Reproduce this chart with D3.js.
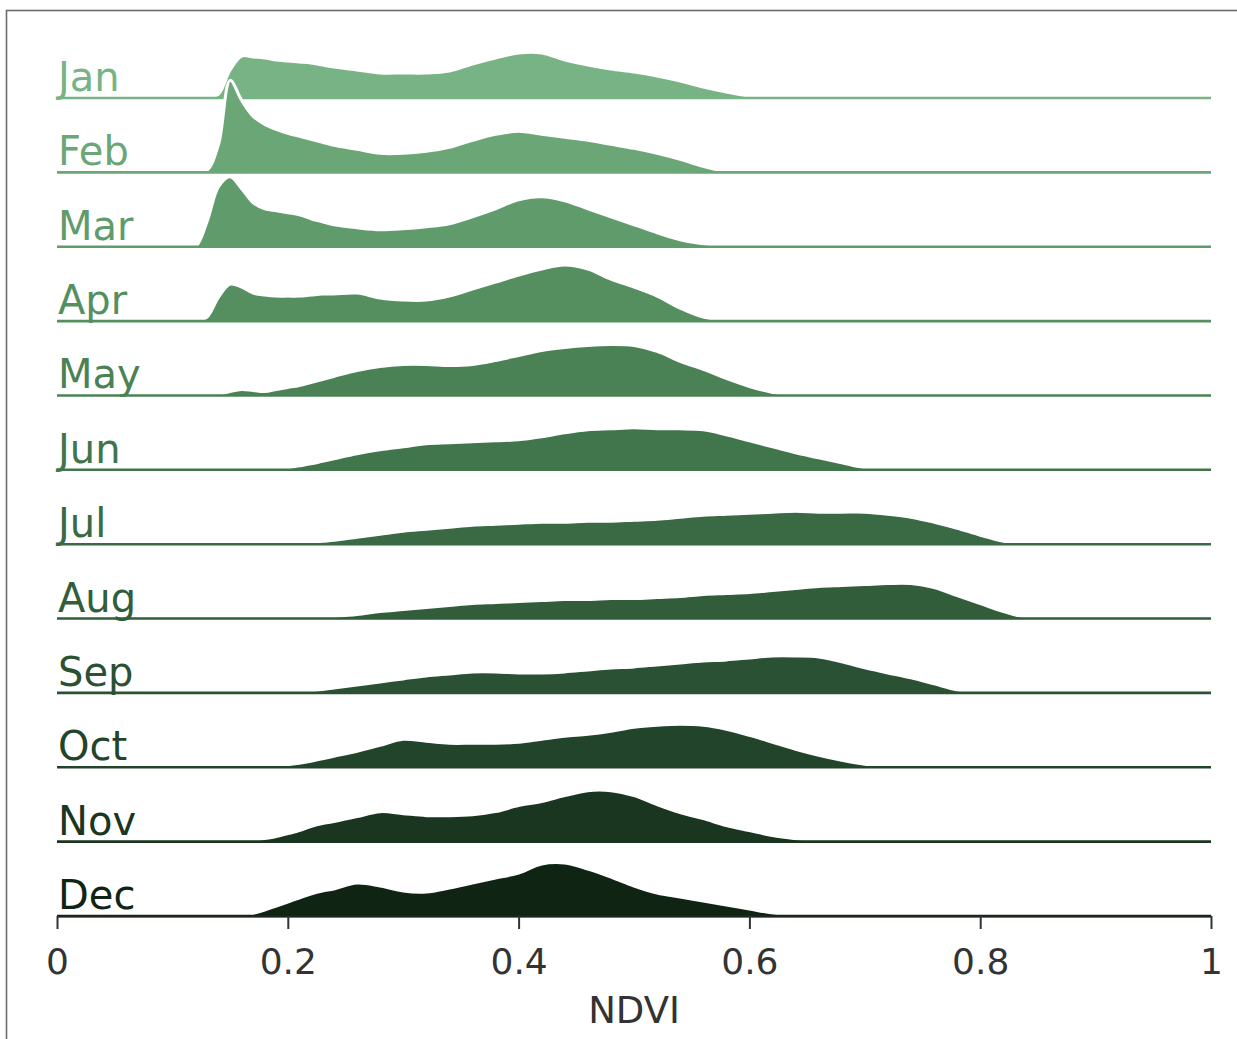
<!DOCTYPE html>
<html><head><meta charset="utf-8">
<script src="https://cdn.jsdelivr.net/npm/d3@7"></script>
<style>body{margin:0;background:#fff} svg{display:block}</style>
</head><body>
<svg id="c" width="1237" height="1039"></svg>
<script>
const months = ["Jan","Feb","Mar","Apr","May","Jun","Jul","Aug","Sep","Oct","Nov","Dec"];
const ndvi = [0.10,0.11,0.12,0.13,0.14,0.15,0.16,0.17,0.18,0.19,0.20,0.21,0.22,0.23,0.24,
  0.26,0.28,0.30,0.32,0.34,0.36,0.38,0.40,0.42,0.44,0.46,0.48,0.50,0.52,0.54,0.56,0.58,0.60,
  0.62,0.64,0.66,0.68,0.70,0.72,0.74,0.76,0.78,0.80,0.82,0.84,0.86,0.88];
const jan = [0,0,0,0.1,0.4,2.8,4.2,4.1,4.0,3.8,3.7,3.6,3.5,3.3,3.1,
  2.8,2.5,2.5,2.5,2.7,3.4,4.0,4.5,4.5,3.8,3.3,2.9,2.6,2.2,1.7,1.1,0.6,0.2,0.05,0,0,0,0,0,0,0,0,0,0,0,0,0];
const feb = [0,0,0,0.2,2.8,9.2,7.2,5.6,4.8,4.3,3.9,3.6,3.3,3.0,2.7,
  2.3,1.9,1.9,2.1,2.5,3.2,3.8,4.1,3.8,3.5,3.2,2.8,2.4,1.9,1.3,0.6,0.1,0.03,0,0,0,0,0,0,0,0,0,0,0,0,0,0];
const mar = [0,0,0,2.5,6.0,7.0,5.8,4.4,3.8,3.6,3.4,3.2,2.8,2.5,2.2,
  1.9,1.7,1.8,2.0,2.3,3.0,3.8,4.7,5.0,4.6,3.8,3.0,2.2,1.4,0.7,0.3,0.05,0,0,0,0,0,0,0,0,0,0,0,0,0,0,0];
const apr = [0,0,0,0.4,2.4,3.7,3.4,2.8,2.6,2.5,2.5,2.5,2.6,2.7,2.7,
  2.8,2.3,2.1,2.1,2.5,3.2,3.9,4.6,5.2,5.6,5.2,4.2,3.4,2.5,1.3,0.4,0.05,0,0,0,0,0,0,0,0,0,0,0,0,0,0,0];
const may = [0,0,0,0,0.1,0.4,0.6,0.5,0.4,0.6,0.8,1.0,1.3,1.6,1.9,
  2.5,2.9,3.1,3.1,3.0,3.1,3.5,4.0,4.5,4.8,5.0,5.1,5.0,4.4,3.4,2.6,1.7,0.9,0.3,0.05,0,0,0,0,0,0,0,0,0,0,0,0];
const jun = [0,0,0,0,0,0,0,0,0.02,0.08,0.2,0.4,0.6,0.85,1.1,
  1.6,2.0,2.3,2.6,2.7,2.8,2.9,3.0,3.3,3.7,4.0,4.1,4.2,4.1,4.1,4.0,3.5,2.9,2.3,1.7,1.2,0.7,0.2,0.05,0,0,0,0,0,0,0,0];
const jul = [0,0,0,0,0,0,0,0,0,0,0.03,0.08,0.15,0.28,0.4,
  0.7,1.0,1.3,1.5,1.7,1.9,2.0,2.1,2.2,2.2,2.3,2.3,2.4,2.5,2.7,2.9,3.0,3.1,3.2,3.3,3.2,3.2,3.2,3.0,2.7,2.2,1.6,0.9,0.3,0.05,0,0];
const aug = [0,0,0,0,0,0,0,0,0,0,0,0.03,0.06,0.12,0.2,
  0.4,0.7,0.9,1.1,1.3,1.5,1.6,1.7,1.8,1.9,1.9,2.0,2.0,2.1,2.2,2.4,2.5,2.6,2.8,3.0,3.2,3.3,3.4,3.5,3.5,3.1,2.3,1.5,0.7,0.1,0,0];
const sep = [0,0,0,0,0,0,0,0,0,0,0.03,0.1,0.2,0.35,0.5,
  0.8,1.1,1.4,1.7,1.9,2.1,2.1,2.0,2.0,2.1,2.3,2.5,2.6,2.8,3.0,3.2,3.3,3.5,3.7,3.7,3.6,3.1,2.5,2.0,1.5,0.9,0.3,0.05,0,0,0,0];
const oct = [0,0,0,0,0,0,0,0,0.05,0.12,0.25,0.4,0.6,0.85,1.1,
  1.6,2.2,2.8,2.6,2.4,2.4,2.4,2.5,2.8,3.1,3.3,3.6,4.0,4.2,4.3,4.2,3.8,3.2,2.5,1.8,1.2,0.7,0.3,0.05,0,0,0,0,0,0,0,0];
const nov = [0,0,0,0,0,0,0.03,0.1,0.3,0.5,0.8,1.1,1.5,1.8,2.0,
  2.5,3.0,2.8,2.6,2.6,2.7,3.0,3.6,4.0,4.6,5.1,5.1,4.6,3.7,2.9,2.3,1.6,1.1,0.6,0.3,0.1,0.03,0,0,0,0,0,0,0,0,0,0];
const dec = [0,0,0,0,0,0.02,0.08,0.25,0.6,1.0,1.4,1.8,2.2,2.5,2.7,
  3.3,3.0,2.5,2.4,2.8,3.3,3.8,4.3,5.2,5.3,4.7,3.9,3.0,2.3,1.9,1.5,1.1,0.7,0.3,0.1,0.03,0,0,0,0,0,0,0,0,0,0,0];
const densities = [jan,feb,mar,apr,may,jun,jul,aug,sep,oct,nov,dec];
const colors = ["#78b385","#6ba677","#609b6b","#558f60","#4a8255","#41754b","#396a44","#315d3b","#2a5133","#22442a","#1a3620","#102414"];
const xTicks = [0,0.2,0.4,0.6,0.8,1];
const xTickLabels = ["0","0.2","0.4","0.6","0.8","1"];
const xTitle = "NDVI";

const svg = d3.select("#c");
const FONT = "'DejaVu Sans', sans-serif";

svg.append("rect").attr("x",6.5).attr("y",10.5).attr("width",1300).attr("height",1100)
  .attr("fill","none").attr("stroke","#6b6b6b").attr("stroke-width",1.6);

const x = d3.scaleLinear().domain([0,1]).range([57,1211]);
const row = d3.scalePoint().domain(months).range([98,916]);
const h = d3.scaleLinear().domain([0,10]).range([0,100]).clamp(true);

const curve = d3.curveCatmullRom.alpha(0.5);
const area = d3.area().x(d=>x(d[0])).y0(0).y1(d=>-h(d[1])).curve(curve);
const line = d3.line().x(d=>x(d[0])).y(d=>-h(d[1])).curve(curve);

months.forEach((m,i)=>{
  const vals = densities[i];
  const pts = ndvi.map((v,j)=>[v, vals[j] || 0]);
  const g = svg.append("g").attr("transform",`translate(0,${row(m)})`);
  const clipId = "clip"+i;
  g.append("clipPath").attr("id",clipId).append("rect")
    .attr("x",0).attr("y",-300).attr("width",1237).attr("height",300);
  g.append("path").attr("d",area(pts)).attr("fill",colors[i]).attr("clip-path",`url(#${clipId})`);
  g.append("path").attr("d",line(pts)).attr("fill","none").attr("stroke","#fff")
    .attr("stroke-width",3).attr("stroke-linejoin","round");
  g.append("line").attr("x1",x(0)).attr("x2",x(1)).attr("y1",0).attr("y2",0)
    .attr("stroke",colors[i]).attr("stroke-width",2.6);
  g.append("text").attr("x",x(0)+1).attr("y",-7).text(m)
    .attr("font-family",FONT).attr("font-size",40).attr("fill",colors[i]);
});

const axis = d3.axisBottom(x).tickValues(xTicks).tickFormat((d,i)=>xTickLabels[i])
  .tickSize(13).tickSizeOuter(0);
const ag = svg.append("g").attr("transform",`translate(0,${row("Dec")})`).call(axis);
ag.select(".domain").attr("stroke","#1d261d").attr("stroke-width",2);
ag.selectAll(".tick line").attr("stroke","#333").attr("stroke-width",2);
ag.selectAll(".tick text").attr("y",58).attr("dy",0).attr("fill","#333")
  .attr("font-family",FONT).attr("font-size",36);

svg.append("text").attr("x",x(0.5)).attr("y",1023).attr("text-anchor","middle")
  .attr("font-family",FONT).attr("font-size",37).attr("fill","#333").text(xTitle);
</script>
</body></html>
